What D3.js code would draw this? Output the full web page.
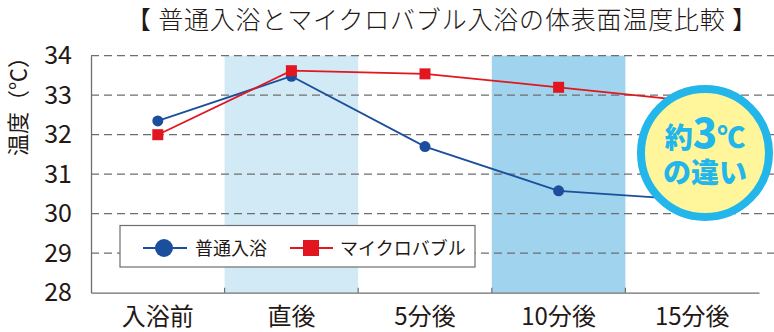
<!DOCTYPE html>
<html><head><meta charset="utf-8">
<script src="https://cdn.jsdelivr.net/npm/d3@7"></script>
<style>body{margin:0;background:#fff}svg{display:block}</style>
</head><body>
<svg id="c" width="774" height="332"></svg>
<script>
const categories = ["入浴前", "直後", "5分後", "10分後", "15分後"];
const normalBath = [32.35, 33.48, 31.7, 30.58, 30.35];
const microBubble = [32.0, 33.62, 33.54, 33.2, 32.85];
const yTicks = [28, 29, 30, 31, 32, 33, 34];
const gridValues = [29, 30, 31, 32, 33, 34];
const shadedBands = [{cat: "直後", color: "#d2e9f6"}, {cat: "10分後", color: "#9fd3ee"}];
const seriesNames = ["普通入浴", "マイクロバブル"];
const titleText = "【 普通入浴とマイクロバブル入浴の体表面温度比較 】";
const yLabel = "温度（℃）";

const font = "'Noto Sans CJK JP','Noto Sans',sans-serif";
const svg = d3.select("#c");
const x = d3.scaleBand().domain(categories).range([91, 759]).padding(0);
const y = d3.scaleLinear().domain([28, 34]).range([292.7, 55.7]);
const blue = "#1b4f9d", red = "#e1161f", axisCol = "#6e6e6e", textCol = "#231815";

// bands
svg.selectAll("rect.band").data(shadedBands).join("rect")
  .attr("x", d => x(d.cat)).attr("width", x.bandwidth())
  .attr("y", y(34)).attr("height", y(28) - y(34))
  .attr("fill", d => d.color);

// grid
svg.selectAll("line.grid").data(gridValues).join("line")
  .attr("x1", 91).attr("x2", 774)
  .attr("y1", d => y(d)).attr("y2", d => y(d))
  .attr("stroke", axisCol).attr("stroke-width", 1.3)
  .attr("stroke-dasharray", "8,5");

// axes
const yAxis = svg.append("g").attr("transform", "translate(91,0)")
  .call(d3.axisLeft(y).tickValues(yTicks).tickFormat(d3.format("d")).tickSize(0).tickPadding(19));
yAxis.select(".domain").attr("stroke", axisCol).attr("stroke-width", 1.3);
yAxis.selectAll("text").attr("font-family", font).attr("font-size", 25).attr("fill", textCol);

const xAxis = svg.append("g").attr("transform", `translate(0,${y(28)})`)
  .call(d3.axisBottom(x).tickSize(0).tickPadding(12));
xAxis.select(".domain").attr("stroke", axisCol).attr("stroke-width", 1.3);
xAxis.selectAll("text").attr("font-family", font).attr("font-size", 24).attr("fill", textCol).attr("dy", "0.85em");
// boundary ticks
svg.selectAll("line.btick").data(categories.slice(1)).join("line")
  .attr("x1", d => x(d)).attr("x2", d => x(d))
  .attr("y1", y(28)).attr("y2", y(28) - 5)
  .attr("stroke", axisCol).attr("stroke-width", 1.2);

// lines
const line = d3.line().x((d, i) => x(categories[i]) + x.bandwidth() / 2).y(d => y(d));
svg.append("path").datum(normalBath).attr("d", line).attr("fill", "none").attr("stroke", blue).attr("stroke-width", 1.8);
svg.append("path").datum(microBubble).attr("d", line).attr("fill", "none").attr("stroke", red).attr("stroke-width", 1.8);
svg.selectAll("circle.pt").data(normalBath).join("circle")
  .attr("cx", (d, i) => x(categories[i]) + x.bandwidth() / 2).attr("cy", d => y(d))
  .attr("r", 5.5).attr("fill", blue);
svg.selectAll("rect.pt").data(microBubble).join("rect")
  .attr("x", (d, i) => x(categories[i]) + x.bandwidth() / 2 - 5.5).attr("y", d => y(d) - 5.5)
  .attr("width", 11).attr("height", 11).attr("fill", red);

// badge
const badge = svg.append("g").attr("transform", "translate(705,153)");
badge.append("circle").attr("r", 64).attr("fill", "#fff69c").attr("stroke", "#22b6ea").attr("stroke-width", 8);
const t1 = badge.append("text").attr("text-anchor", "middle").attr("y", -5)
  .attr("font-family", font).attr("font-weight", 900).attr("fill", "#22b6ea");
t1.append("tspan").attr("font-size", 28).text("約");
t1.append("tspan").attr("font-size", 40).text("3");
t1.append("tspan").attr("font-size", 28).text("℃");
badge.append("text").attr("text-anchor", "middle").attr("y", 30)
  .attr("font-family", font).attr("font-weight", 900).attr("font-size", 28).attr("fill", "#22b6ea")
  .text("の違い");

// legend
const lg = svg.append("g");
lg.append("rect").attr("x", 120).attr("y", 225.5).attr("width", 355).attr("height", 41.5)
  .attr("fill", "#fff").attr("stroke", axisCol).attr("stroke-width", 1.2);
const ly = 248;
lg.append("line").attr("x1", 143).attr("x2", 187).attr("y1", ly).attr("y2", ly).attr("stroke", blue).attr("stroke-width", 1.8);
lg.append("circle").attr("cx", 164).attr("cy", ly).attr("r", 9).attr("fill", blue);
lg.append("text").attr("x", 195).attr("y", ly + 7).attr("font-family", font).attr("font-size", 18).attr("fill", textCol).text(seriesNames[0]);
lg.append("line").attr("x1", 290).attr("x2", 333).attr("y1", ly).attr("y2", ly).attr("stroke", red).attr("stroke-width", 1.8);
lg.append("rect").attr("x", 303).attr("y", ly - 8).attr("width", 16).attr("height", 16).attr("fill", red);
lg.append("text").attr("x", 340).attr("y", ly + 7).attr("font-family", font).attr("font-size", 18).attr("fill", textCol).text(seriesNames[1]);

// title
svg.append("text").attr("x", 126).attr("y", 29)
  .attr("textLength", 631).attr("lengthAdjust", "spacing")
  .attr("font-family", font).attr("font-weight", 300).attr("font-size", 25).attr("fill", textCol).text(titleText);

// y label
svg.append("text").attr("transform", "translate(26,101) rotate(-90)").attr("text-anchor", "middle")
  .attr("font-family", font).attr("font-size", 22).attr("fill", textCol).text(yLabel);
</script>
</body></html>
